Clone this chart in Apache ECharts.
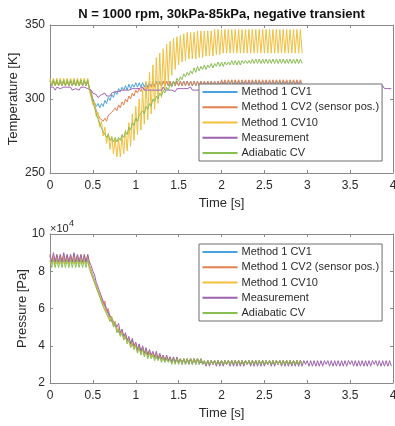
<!DOCTYPE html>
<html><head><meta charset="utf-8">
<script src="https://cdn.jsdelivr.net/npm/echarts@6/dist/echarts.min.js"></script>
<style>html,body{margin:0;padding:0;background:#fff}#c{width:395px;height:426px}</style>
</head><body><div id="c"></div>
<script>
// ---------- data ----------
const chartTitle = 'N = 1000 rpm, 30kPa-85kPa, negative transient';
const seriesNames = ['Method 1 CV1', 'Method 1 CV2 (sensor pos.)', 'Method 1 CV10', 'Measurement', 'Adiabatic CV'];
const sampleStep = 0.02; // seconds between samples (all series)
const timeTicks = [0, 0.5, 1, 1.5, 2, 2.5, 3, 3.5, 4];
const tempTicks = [250, 300, 350];
const pressTicks = [2, 4, 6, 8, 10]; // x10^4 Pa

// Temperature [K]
const tempCV1 = [
312,309,312,309,312,309,312,309,312,309,
312,309,312,309,312,309,312,309,312,309,
312,309,312,307,306,300,300,295,297,294,
297,295,299,297,301,299,303,301,305,303,
307,305,308,306,309,306,310,307,310,308,
311,308,311,308,311,308,311,308,311,308,
312,309,312,309,312,309,312,309,312,309,
312,309,312,309,312,309,312,309,312,309,
312,309,312,309,312,309,312,309,312,309,
312,309,312,309,312,309,312,309,312,309,
312,309,312,309,312,310,312,309,312,309,
312,309,312,309,312,309,312,309,312,309,
312,309,312,309,312,309,312,309,312,309,
312,309,312,309,312,309,312,309,312,309,
312,309,312,309,312,309,312,309];
const tempCV2 = [
312,309,312,309,312,309,312,309,312,309,
312,309,312,309,312,309,312,309,312,309,
312,309,312,307,305,299,297,292,291,287,
288,285,287,285,289,288,291,290,294,292,
296,294,298,296,300,298,302,300,304,302,
306,304,307,305,308,306,309,307,310,308,
311,308,311,309,311,309,312,309,312,309,
312,309,312,309,312,309,312,309,312,309,
312,309,312,309,312,309,312,309,312,309,
312,309,312,309,312,309,312,309,312,309,
313,310,313,310,313,310,313,310,313,310,
313,310,313,310,313,310,313,310,313,310,
313,310,313,310,313,310,313,310,313,310,
313,310,313,310,313,310,313,310,313,310,
313,310,313,310,313,310,313,310];
const tempCV10 = [
314,309,314,309,314,309,314,309,314,309,
314,309,314,309,314,309,314,309,314,309,
314,309,314,306,307,296,298,288,291,281,
285,275,281,270,277,266,275,263,273,261,
273,261,275,263,279,265,284,268,290,272,
295,276,300,279,306,283,312,286,318,290,
323,293,328,297,331,301,334,306,337,311,
339,316,341,320,342,323,343,325,344,326,
345,327,345,327,345,327,346,328,346,328,
346,329,346,329,346,329,347,330,347,330,
347,331,347,331,347,331,347,331,347,331,
347,331,347,331,347,331,347,331,347,331,
347,331,347,331,347,331,347,331,347,331,
347,331,347,331,347,331,347,331,347,331,
347,331,347,331,347,331,347,331];
const tempMeas = [
308,307,308,306,308,307,307,306,308,307,
308,307,308,306,307,307,308,306,308,307,
308,307,307,307,306,304,303,303,301,301,
303,302,304,302,303,302,304,303,305,304,
305,305,306,305,306,305,306,306,307,306,
307,306,307,306,308,306,307,306,307,306,
307,306,307,306,307,306,308,306,307,306,
307,306,307,305,307,306,307,306,307,306,
307,306,308,306,307,306,307,306,307,306,
307,306,307,306,307,306,308,306,307,306,
307,306,307,306,307,306,307,306,308,306,
307,306,307,306,307,306,307,306,307,306,
308,306,307,306,307,306,307,306,307,306,
307,306,307,306,308,306,307,306,307,306,
307,306,307,306,307,306,307,306,307,306,
307,306,308,307,307,306,307,306,307,306,
307,306,307,306,307,306,308,306,307,306,
307,306,307,306,307,307,308,307,308,307,
308,307,308,307,308,307,309,307,308,307,
308,307,308,307,309,307,308,307,308,307];
const tempAdiabatic = [
313,309,313,309,313,309,313,309,313,309,
313,309,313,309,313,309,313,309,313,309,
313,309,313,307,306,298,297,290,289,283,
283,278,279,274,276,272,274,271,274,271,
274,272,276,274,278,276,281,279,284,282,
287,285,289,288,292,290,295,293,297,295,
300,298,302,300,304,302,306,304,308,306,
310,308,312,310,314,312,315,313,317,315,
318,316,319,317,321,318,322,319,322,320,
323,320,323,321,324,321,324,322,325,322,
325,322,325,323,325,323,326,323,326,323,
326,323,326,324,326,324,326,324,327,324,
327,324,327,324,327,324,327,324,327,324,
327,324,327,324,327,324,327,324,327,324,
327,324,327,324,327,324,327,324];

// Pressure [kPa]  (axis shows x10^4 Pa)
const pressCV1 = [
88,84,88,84,88,84,88,84,88,84,
88,84,88,84,88,84,88,84,88,84,
88,84,88,83,82,78,77,72,72,67,
68,63,64,59,60,55,56,52,53,49,
50,46,48,44,46,42,44,41,43,39,
41,38,40,37,39,36,38,35,37,34,
36,34,35,33,35,33,34,32,34,32,
34,31,33,31,33,31,33,31,33,31,
33,31,33,31,33,31,33,31,32,31,
32,30,32,30,32,30,32,30,32,30,
32,30,32,30,32,30,32,30,32,30,
32,30,32,30,32,30,32,30,32,30,
32,30,32,30,32,30,32,30,32,30,
32,30,32,30,32,30,32,30,32,30,
32,30,32,30,32,30,32,30];
const pressCV2 = [
88,85,88,84,88,85,88,84,88,85,
88,84,88,85,88,84,88,85,88,84,
88,85,88,83,82,77,77,72,72,67,
68,62,64,58,60,55,56,51,53,49,
50,46,48,44,46,42,44,40,42,39,
41,37,40,36,39,35,38,35,37,34,
36,33,35,33,35,32,34,32,34,32,
34,31,33,31,33,31,33,31,33,31,
33,31,33,31,33,31,33,31,33,31,
32,30,32,30,32,30,32,30,32,30,
32,30,32,30,32,30,32,30,32,30,
32,30,32,30,32,30,32,30,32,30,
32,30,32,30,32,30,32,30,32,30,
32,30,32,30,32,30,32,30,32,30,
32,30,32,30,32,30,32,30];
const pressCV10 = [
89,84,89,84,89,84,89,84,89,84,
89,84,89,84,89,84,89,84,89,84,
89,84,89,83,82,77,77,72,72,67,
67,62,63,58,59,54,56,51,53,48,
50,46,48,44,46,42,44,40,42,38,
41,37,40,36,39,35,38,34,37,34,
36,33,36,33,35,32,35,32,34,32,
34,31,34,31,33,31,33,31,33,31,
33,31,33,31,33,31,33,31,33,31,
32,30,32,30,32,30,32,30,32,30,
32,30,32,30,32,30,32,30,32,30,
32,30,32,30,32,30,32,30,32,30,
32,30,32,30,32,30,32,30,32,30,
32,30,32,30,32,30,32,30,32,30,
32,30,32,30,32,30,32,30];
const pressMeas = [
89,85,90,85,89,85,89,85,90,85,
89,85,89,85,90,85,89,85,89,85,
89,85,89,85,83,80,78,74,73,69,
68,64,64,60,61,56,57,53,54,50,
52,47,49,45,47,43,45,41,44,40,
42,38,41,37,40,36,39,35,38,35,
37,34,37,33,36,33,35,32,35,32,
34,31,34,31,34,31,33,30,33,30,
33,30,33,30,33,30,33,30,33,30,
32,29,32,29,32,30,32,29,32,29,
32,29,32,30,32,29,32,29,32,29,
32,29,32,29,32,30,32,29,32,29,
32,29,32,29,32,29,32,30,32,29,
32,29,32,30,32,29,32,29,32,29,
32,29,32,29,32,29,32,29,32,30,
32,29,32,29,32,29,32,29,32,29,
32,30,32,29,32,29,32,29,32,29,
32,29,32,29,32,30,32,29,32,29,
32,29,32,29,32,29,32,29,32,30,
32,29,32,29,32,29,32,29,32,29];
const pressAdiabatic = [
86,82,86,82,86,82,86,82,86,82,
86,82,86,82,86,82,86,82,86,82,
86,82,86,81,81,76,76,71,71,66,
66,61,62,57,58,53,55,50,52,47,
49,45,47,43,45,41,43,39,41,38,
40,36,39,35,38,34,37,33,36,33,
35,32,35,32,34,31,34,31,33,31,
33,30,33,30,33,30,33,30,33,30,
33,30,33,30,33,30,33,30,33,30,
32,30,32,30,32,30,32,30,32,30,
32,30,32,30,32,30,32,30,32,30,
32,30,32,30,32,30,32,30,32,30,
32,30,32,30,32,30,32,30,32,30,
32,30,32,30,32,30,32,30,32,30,
32,30,32,30,32,30,32,30];

// ---------- style ----------
const colors = ['#4ba3de', '#e5814f', '#f2bf3c', '#9e62af', '#8abd52'];
const FONT = '"Liberation Sans", Arial, sans-serif';
const axisGray = '#8a8a8a';
const textGray = '#2a2a2a';

function toPairs(arr) { return arr.map((v, i) => [Math.round(i * sampleStep * 1000) / 1000, v]); }

const tempData = [tempCV1, tempCV2, tempCV10, tempMeas, tempAdiabatic];
const pressData = [pressCV1, pressCV2, pressCV10, pressMeas, pressAdiabatic];
const pressTicksKPa = pressTicks.map(v => v * 10);

function xAxes(grid) {
  const base = {
    gridIndex: grid, type: 'value', min: timeTicks[0], max: timeTicks[timeTicks.length - 1],
    interval: timeTicks[1] - timeTicks[0], splitLine: { show: false },
    axisLine: { onZero: false, lineStyle: { color: axisGray, width: 1 } },
    axisTick: { inside: true, length: 3, lineStyle: { color: axisGray } }
  };
  return [
    Object.assign({}, base, {
      position: 'bottom', name: 'Time [s]', nameLocation: 'middle', nameGap: 24, nameMoveOverlap: false,
      nameTextStyle: { fontSize: 13, color: textGray, fontFamily: FONT },
      axisLabel: { fontSize: 12, color: textGray, fontFamily: FONT, margin: 7 }
    }),
    Object.assign({}, base, { position: 'top', axisLabel: { show: false } })
  ];
}
function yAxes(grid, ticks, name, gap, fmt) {
  const base = {
    gridIndex: grid, type: 'value', min: ticks[0], max: ticks[ticks.length - 1],
    interval: ticks[1] - ticks[0], splitLine: { show: false },
    axisLine: { onZero: false, lineStyle: { color: axisGray, width: 1 } },
    axisTick: { inside: true, length: 3, lineStyle: { color: axisGray } }
  };
  return [
    Object.assign({}, base, {
      position: 'left', name: name, nameLocation: 'middle', nameGap: gap, nameMoveOverlap: false,
      nameTextStyle: { fontSize: 13, color: textGray, fontFamily: FONT },
      axisLabel: { fontSize: 12, color: textGray, fontFamily: FONT, margin: 5, formatter: fmt }
    }),
    Object.assign({}, base, { position: 'right', axisLabel: { show: false } })
  ];
}

const series = [];
seriesNames.forEach((n, k) => {
  series.push({ name: n, type: 'line', xAxisIndex: 0, yAxisIndex: 0, data: toPairs(tempData[k]),
    symbol: 'none', lineStyle: { width: 1, color: colors[k] }, itemStyle: { color: colors[k] }, silent: true });
});
seriesNames.forEach((n, k) => {
  series.push({ name: n, type: 'line', xAxisIndex: 2, yAxisIndex: 2, data: toPairs(pressData[k]),
    symbol: 'none', lineStyle: { width: 1, color: colors[k] }, itemStyle: { color: colors[k] }, silent: true });
});

function legendAt(top) {
  return {
    data: seriesNames, orient: 'vertical', left: 199, top: top, selectedMode: false,
    itemWidth: 35, itemHeight: 13, itemGap: 4.25, padding: [2.5, 3, 2.5, 2.5],
    itemStyle: { opacity: 0 },
    borderColor: '#6e6e6e', borderWidth: 1, backgroundColor: '#ffffff',
    textStyle: { fontSize: 11, color: textGray, fontFamily: FONT, padding: [0, 0, 0, -1] }
  };
}

const option = {
  animation: false,
  backgroundColor: '#ffffff',
  grid: [
    { left: 50, top: 25, width: 343, height: 148, outerBoundsMode: 'none', containLabel: false },
    { left: 50, top: 234, width: 343, height: 149, outerBoundsMode: 'none', containLabel: false }
  ],
  xAxis: xAxes(0).concat(xAxes(1)),
  yAxis: yAxes(0, tempTicks, 'Temperature [K]', 30, v => String(v))
    .concat(yAxes(1, pressTicksKPa, 'Pressure [Pa]', 21, v => String(v / 10))),
  legend: [legendAt(84), legendAt(244)],
  series: series,
  graphic: [
    { type: 'text', x: 221.5, y: 14, style: { text: chartTitle, textAlign: 'center', textVerticalAlign: 'middle',
      font: 'bold 13px ' + FONT, fill: '#111' } },
    { type: 'text', x: 50, y: 228.5, style: { text: '\u00d710', textAlign: 'left', textVerticalAlign: 'middle',
      font: '11px ' + FONT, fill: textGray } },
    { type: 'text', x: 69, y: 223.5, style: { text: '4', textAlign: 'left', textVerticalAlign: 'middle',
      font: '9px ' + FONT, fill: textGray } }
  ]
};
echarts.init(document.getElementById('c')).setOption(option);
</script></body></html>
